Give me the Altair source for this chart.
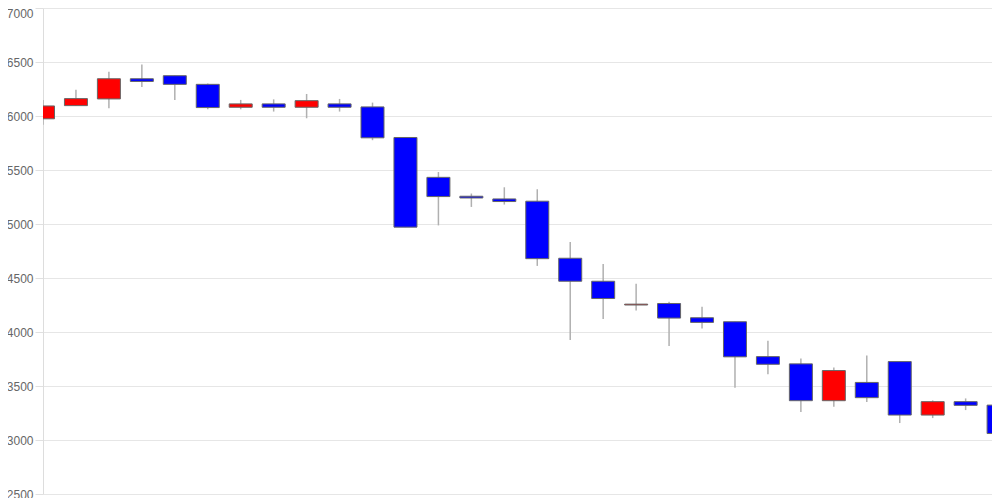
import altair as alt
import pandas as pd

idx = list(range(1, 31))
open_ = [5974, 6096, 6158, 6345, 6373, 6293, 6081, 6112, 6081, 6112,
         6084, 5801, 5432, 5257, 5232, 5211, 4683, 4470, 4250, 4264,
         4132, 4095, 3772, 3705, 3364, 3533, 3726, 3231, 3355, 3323]
close = [6093, 6161, 6345, 6320, 6293, 6078, 6112, 6081, 6142, 6081,
         5798, 4971, 5254, 5241, 5208, 4679, 4470, 4310, 4258, 4129,
         4089, 3770, 3701, 3364, 3643, 3392, 3231, 3355, 3321, 3060]
high = [6149, 6244, 6410, 6477, 6373, 6300, 6149, 6154, 6204, 6158,
        6124, 5801, 5481, 5282, 5340, 5322, 4833, 4630, 4446, 4280,
        4234, 4095, 3920, 3754, 3671, 3782, 3726, 3367, 3385, 3323]
low = [5918, 6096, 6071, 6269, 6149, 6062, 6062, 6041, 5979, 6041,
       5776, 4971, 4987, 5158, 5180, 4612, 3926, 4120, 4200, 3871,
       4033, 3484, 3609, 3259, 3308, 3351, 3157, 3203, 3277, 3060]
y_ticks = [2500, 3000, 3500, 4000, 4500, 5000, 5500, 6000, 6500, 7000]

df = pd.DataFrame({"i": idx, "open": open_, "close": close, "high": high, "low": low})
df["dir"] = ["up" if c >= o else "down" for o, c in zip(open_, close)]

x = alt.X("i:Q", scale=alt.Scale(domain=[1, 29.8], nice=False, zero=False, padding=0), axis=None)
yscale = alt.Scale(domain=[2500, 7000], nice=False, zero=False)

base = alt.Chart(df)

wicks = base.mark_rule(color="#b0b0b0", strokeWidth=1.5, clip=True).encode(
    x=x,
    y=alt.Y("low:Q", scale=yscale, axis=alt.Axis(
        values=y_ticks, format="d", title=None,
        labelFont="Liberation Sans", labelFontSize=12, labelColor="#666666",
        labelPadding=2, tickSize=8, tickColor="#e0e0e0",
        gridColor="#e6e6e6", domainColor="#dddddd",
        labelBaseline={"condition": {"test": "datum.value == 7000", "value": "top"}, "value": "middle"},
    )),
    y2="high:Q",
)

bodies = base.mark_bar(size=23, stroke="#666666", strokeWidth=1, clip=True).encode(
    x=x,
    y=alt.Y("open:Q", scale=yscale),
    y2="close:Q",
    color=alt.Color("dir:N", scale=alt.Scale(domain=["up", "down"], range=["#ff0000", "#0000ff"]), legend=None),
)

chart = alt.layer(wicks, bodies).properties(
    width=949, height=486,
    autosize=alt.AutoSizeParams(type="none"),
    padding={"left": 35, "top": 0, "right": 0, "bottom": 4},
).configure_view(strokeWidth=0)

chart.save("out.html", embed_options={"renderer": "svg", "actions": False})
